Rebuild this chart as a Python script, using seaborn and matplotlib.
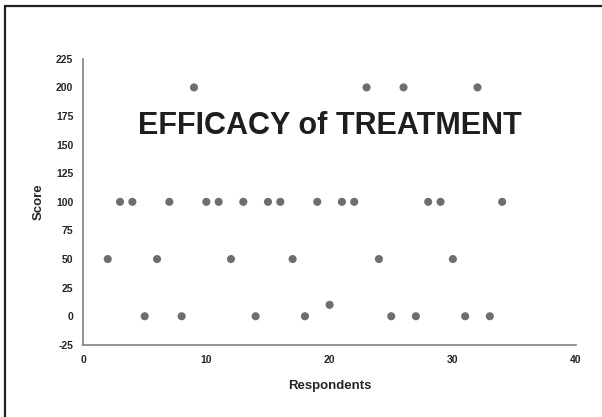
import matplotlib
matplotlib.use("Agg")
import matplotlib.pyplot as plt
from matplotlib.lines import Line2D
import pandas as pd
import seaborn as sns

# ── Data ──────────────────────────────────────────────────────────────────────
respondents = [2, 3, 4, 5, 6, 7, 8, 9, 10, 11, 12, 13, 14, 15, 16, 17, 18,
               19, 20, 21, 22, 23, 24, 25, 26, 27, 28, 29, 30, 31, 32, 33, 34]
scores = [50, 100, 100, 0, 50, 100, 0, 200, 100, 100, 50, 100, 0, 100, 100,
          50, 0, 100, 10, 100, 100, 200, 50, 0, 200, 0, 100, 100, 50, 0,
          200, 0, 100]
x_ticks = [0, 10, 20, 30, 40]
y_ticks = [-25, 0, 25, 50, 75, 100, 125, 150, 175, 200, 225]

df = pd.DataFrame({"Respondents": respondents, "Score": scores})

sns.set_style("white")
plt.rcParams["font.family"] = ["Liberation Sans", "DejaVu Sans"]
plt.rcParams["axes.unicode_minus"] = False

fig = plt.figure(figsize=(6.02, 4.17), dpi=100)
ax = fig.add_axes([0.138, 0.173, 0.819, 0.686])

sns.scatterplot(data=df, x="Respondents", y="Score", ax=ax,
                color="#6e6e6e", s=34, edgecolor="none", zorder=3)

ax.set_xlim(0, 40)
ax.set_ylim(-25, 225)
ax.set_xticks(x_ticks)
ax.set_yticks(y_ticks)
ax.tick_params(axis="both", direction="out", length=4, width=1,
               color="#808080", labelsize=7.5, pad=3)
for lab in ax.get_xticklabels() + ax.get_yticklabels():
    lab.set_fontweight("bold")

for side in ["top", "right"]:
    ax.spines[side].set_visible(False)
for side in ["left", "bottom"]:
    ax.spines[side].set_color("#808080")
    ax.spines[side].set_linewidth(1.2)

ax.set_xlabel("Respondents", fontsize=9.5, fontweight="bold", labelpad=11)
ax.set_ylabel("Score", fontsize=9.5, fontweight="bold", labelpad=8)

ax.text(20, 166, "EFFICACY of TREATMENT", ha="center", va="center",
        fontsize=22, fontweight="bold", color="#1e1e1e")

# frame lines at top and left of the picture
fig.add_artist(Line2D([0.008, 0.008], [0.0, 0.986], transform=fig.transFigure,
                      color="#222222", linewidth=1.6))
fig.add_artist(Line2D([0.008, 1.0], [0.986, 0.986], transform=fig.transFigure,
                      color="#222222", linewidth=1.6))

plt.savefig("out.png", dpi=100)
plt.close()
